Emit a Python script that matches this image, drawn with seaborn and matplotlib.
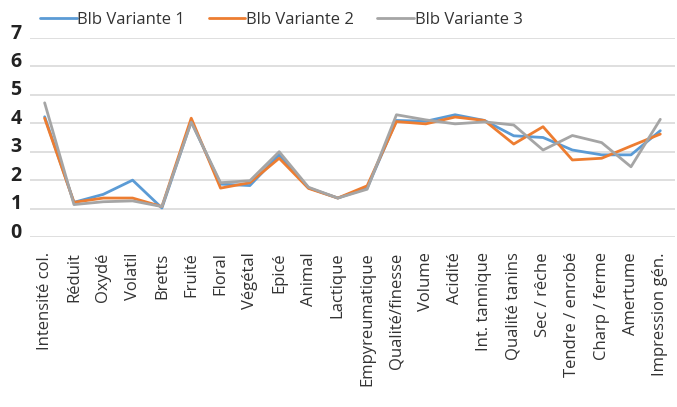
import matplotlib
matplotlib.use("Agg")
import matplotlib.pyplot as plt
import matplotlib.transforms as mtransforms
import pandas as pd
import seaborn as sns

categories = ["Intensité col.", "Réduit", "Oxydé", "Volatil", "Bretts", "Fruité",
              "Floral", "Végétal", "Epicé", "Animal", "Lactique", "Empyreumatique",
              "Qualité/finesse", "Volume", "Acidité", "Int. tannique", "Qualité tanins",
              "Sec / rêche", "Tendre / enrobé", "Charp / ferme", "Amertume", "Impression gén."]

variante_1 = [4.23, 1.22, 1.50, 2.00, 1.02, 4.06, 1.86, 1.81, 2.89, 1.73, 1.37, 1.72,
              4.10, 4.07, 4.30, 4.10, 3.56, 3.50, 3.06, 2.89, 2.89, 3.74]
variante_2 = [4.18, 1.22, 1.37, 1.37, 1.07, 4.18, 1.72, 1.91, 2.77, 1.71, 1.37, 1.80,
              4.06, 3.98, 4.22, 4.10, 3.27, 3.88, 2.71, 2.77, 3.20, 3.62]
variante_3 = [4.72, 1.14, 1.24, 1.27, 1.07, 4.04, 1.91, 1.98, 3.00, 1.75, 1.37, 1.68,
              4.30, 4.12, 3.98, 4.05, 3.94, 3.06, 3.57, 3.32, 2.47, 4.14]

series_names = ["Blb Variante 1", "Blb Variante 2", "Blb Variante 3"]
colors = ["#5B9BD5", "#ED7D31", "#A5A5A5"]

rows = []
for name, vals in zip(series_names, [variante_1, variante_2, variante_3]):
    for cat, v in zip(categories, vals):
        rows.append({"Attribut": cat, "Note": v, "Série": name})
df = pd.DataFrame(rows)

sns.set_style("white")
plt.rcParams["font.family"] = ["Open Sans", "DejaVu Sans"]

fig = plt.figure(figsize=(6.77, 4.07), dpi=100)
ax = fig.add_axes([0.0443, 0.4177, 0.9527, 0.4889])

sns.lineplot(data=df, x="Attribut", y="Note", hue="Série", palette=colors,
             sort=False, linewidth=2.0, ax=ax)

ax.set_xlim(-0.5, len(categories) - 0.5)
ax.set_ylim(0, 7)
ax.set_yticks(range(0, 8))
ax.yaxis.grid(True, color="#d9d9d9", linewidth=1.2)
ax.set_axisbelow(True)
for s in ax.spines.values():
    s.set_visible(False)
ax.set_xlabel("")
ax.set_ylabel("")
ax.tick_params(axis="both", length=0)
ax.tick_params(axis="x", pad=11)
ax.tick_params(axis="y", pad=6)

ax.set_xticks(range(len(categories)))
ax.set_xticklabels(categories, rotation=90, fontsize=12, color="#333333")
for lab in ax.get_yticklabels():
    lab.set_fontsize(14)
    lab.set_fontweight("bold")
    lab.set_color("#222222")
    lab.set_transform(lab.get_transform() + mtransforms.ScaledTranslation(0, 5 / 72, fig.dpi_scale_trans))

ax.legend(loc="lower left", bbox_to_anchor=(0.0, 1.0), ncol=3, frameon=False,
          fontsize=12, handlelength=2.2, handletextpad=0.05, columnspacing=1.4,
          borderaxespad=0.2, labelcolor="#333333")

fig.savefig("out.png", dpi=100)
